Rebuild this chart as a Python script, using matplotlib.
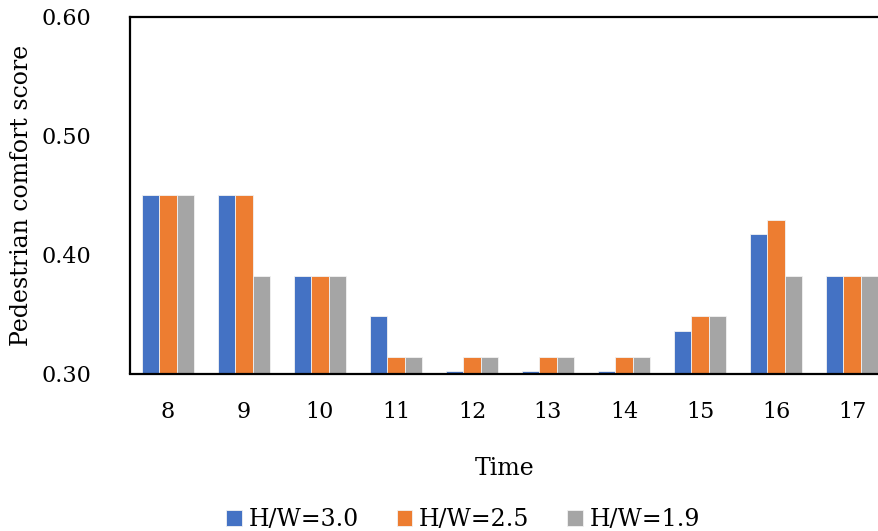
import matplotlib
matplotlib.use("Agg")
import matplotlib.pyplot as plt
import numpy as np

hours = ["8", "9", "10", "11", "12", "13", "14", "15", "16", "17"]
series_names = ["H/W=3.0", "H/W=2.5", "H/W=1.9"]
hw30 = [0.450, 0.450, 0.382, 0.348, 0.302, 0.302, 0.302, 0.336, 0.417, 0.382]
hw25 = [0.450, 0.450, 0.382, 0.314, 0.314, 0.314, 0.314, 0.348, 0.429, 0.382]
hw19 = [0.450, 0.382, 0.382, 0.314, 0.314, 0.314, 0.314, 0.348, 0.382, 0.382]
colors = ["#4472C4", "#ED7D31", "#A5A5A5"]
yticks = [0.30, 0.40, 0.50, 0.60]

plt.rcParams['font.family'] = ['DejaVu Serif']

fig = plt.figure(figsize=(8.79, 5.31), dpi=100)
ax = fig.add_axes([130/879, 1 - 373.5/531, 1 - 130/879, (373.5 - 17)/531])

x = np.arange(len(hours))
w = 0.224
for i, (vals, name, c) in enumerate(zip([hw30, hw25, hw19], series_names, colors)):
    ax.bar(x + (i - 1) * w, np.array(vals) - 0.30, width=w, bottom=0.30, color=c,
           edgecolor="#f2f2f2", linewidth=0.6, label=name, zorder=2)

ax.set_ylim(0.30, 0.60)
ax.set_xlim(-0.5, (879 - 130) / 76 - 0.5)
ax.set_yticks(yticks)
ax.set_yticklabels([f"{v:.2f}" for v in yticks])
ax.set_xticks(x)
ax.set_xticklabels(hours)
ax.tick_params(axis='y', length=0, pad=28, labelsize=16)
ax.tick_params(axis='x', length=0, pad=20, labelsize=16)
for s in ["left", "top", "bottom"]:
    ax.spines[s].set_linewidth(1.6)
    ax.spines[s].set_color("black")
ax.spines["right"].set_visible(False)

ax.set_ylabel("Pedestrian comfort score", fontsize=17, labelpad=6)
ax.set_xlabel("Time", fontsize=17, labelpad=24)

fig.legend(loc="lower center", bbox_to_anchor=(0.527, -0.04), ncol=3, frameon=False,
           fontsize=17, handlelength=0.65, handleheight=0.65, handletextpad=0.3,
           columnspacing=1.6)

fig.savefig("out.png", dpi=100)
